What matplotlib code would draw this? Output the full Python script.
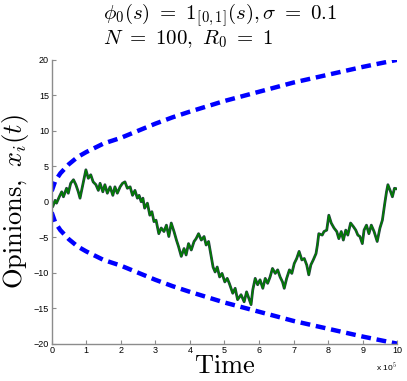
import numpy as np
import matplotlib
matplotlib.use("Agg")
import matplotlib.pyplot as plt

plt.rcParams['mathtext.fontset'] = 'cm'
plt.rcParams['font.family'] = ['Liberation Sans', 'DejaVu Sans']

# time axis in units of 1e5
t_path = [0.0, 0.03, 0.10, 0.14, 0.22, 0.29, 0.34, 0.43, 0.48, 0.55, 0.63, 0.70, 0.77, 0.82,
          0.91, 0.99, 1.06, 1.13, 1.20, 1.28, 1.35, 1.40, 1.48, 1.54, 1.61, 1.69, 1.77, 1.83,
          1.90, 1.98, 2.05, 2.12, 2.19, 2.27, 2.34, 2.41, 2.48, 2.53, 2.59, 2.64, 2.69, 2.77,
          2.84, 2.90, 2.96, 3.02, 3.10, 3.17, 3.25, 3.32, 3.39, 3.46, 3.54, 3.61, 3.67, 3.75,
          3.83, 3.89, 3.96, 4.04, 4.12, 4.18, 4.25, 4.33, 4.41, 4.47, 4.54, 4.60, 4.67, 4.73,
          4.79, 4.86, 4.93, 5.01, 5.08, 5.14, 5.24, 5.31, 5.38, 5.48, 5.57, 5.64, 5.72, 5.77,
          5.82, 5.89, 5.96, 6.03, 6.11, 6.18, 6.25, 6.32, 6.39, 6.47, 6.54, 6.61, 6.68, 6.73,
          6.80, 6.88, 6.95, 7.02, 7.09, 7.16, 7.24, 7.31, 7.38, 7.44, 7.50, 7.57, 7.65, 7.69,
          7.73, 7.83, 7.88, 7.96, 8.02, 8.09, 8.17, 8.25, 8.31, 8.38, 8.44, 8.51, 8.57, 8.65,
          8.73, 8.80, 8.86, 8.92, 8.99, 9.04, 9.11, 9.18, 9.25, 9.33, 9.42, 9.50, 9.57, 9.64,
          9.69, 9.73, 9.81, 9.86, 9.92, 10.0]
x_path = [0.0, -0.7, 0.2, -0.2, 0.7, 1.4, 0.7, 1.9, 1.2, 2.6, 3.1, 2.4, 1.4, 0.5,
          2.6, 4.5, 3.3, 3.8, 2.8, 2.4, 1.6, 2.6, 1.4, 2.4, 1.2, 2.1, 0.9, 2.1,
          1.2, 2.1, 2.6, 2.8, 1.9, 2.1, 0.9, 1.6, 0.5, 0.9, 0.0, 0.5, -0.9, -0.2,
          -1.9, -1.4, -2.8, -2.6, -4.5, -3.7, -4.2, -3.3, -4.9, -3.0, -4.2, -5.4, -6.3, -7.7,
          -6.6, -7.5, -5.9, -6.8, -5.6, -5.2, -4.5, -5.4, -4.9, -6.1, -5.6, -7.3, -9.2, -9.9,
          -9.2, -10.6, -10.1, -11.3, -10.8, -11.5, -12.9, -12.2, -13.8, -13.1, -14.1, -12.7, -13.8, -14.5,
          -12.4, -10.8, -11.7, -11.0, -12.2, -10.8, -11.5, -10.6, -9.4, -10.1, -9.6, -10.6, -11.3, -12.2,
          -10.8, -9.6, -10.1, -8.7, -8.0, -7.0, -8.2, -8.0, -8.9, -10.3, -8.9, -8.2, -7.3, -6.1,
          -4.5, -4.7, -4.2, -4.0, -1.9, -3.0, -3.7, -4.2, -5.2, -4.2, -5.4, -4.0, -4.7, -3.0,
          -3.5, -4.0, -4.7, -4.9, -5.9, -4.0, -3.3, -4.5, -3.3, -4.2, -5.6, -3.7, -2.6, -0.2,
          1.4, 2.4, 1.4, 0.7, 1.9, 1.8]

# envelope (symmetric bound)
t_env = [0.0, 0.1, 0.25, 0.5, 0.75, 1.0, 1.5, 2.0, 2.5, 3.0, 3.5, 4.0, 5.0, 6.0, 7.0, 8.0, 9.0, 10.0]
env = [1.5, 2.9, 4.0, 5.3, 6.3, 7.0, 8.2, 9.0, 10.0, 11.0, 11.9, 12.7, 14.2, 15.5, 16.8, 17.9, 19.0, 20.0]

fig = plt.figure(figsize=(4.07, 3.81), dpi=100)
ax = fig.add_axes([0.127, 0.098, 0.849, 0.745])

env = np.array(env)
ax.plot(t_env, env, color='#0000ff', lw=3.2, dashes=(2.2, 1.3))
ax.plot(t_env, -env, color='#0000ff', lw=3.2, dashes=(2.2, 1.3))

ax.plot(t_path, x_path, color='#2a3a4a', lw=2.0)
ax.plot(t_path, x_path, color='#007f00', lw=1.1)

ax.set_xlim(0, 10)
ax.set_ylim(-20, 20)
ax.set_xticks(range(0, 11))
ax.set_yticks(range(-20, 21, 5))
ax.spines['top'].set_visible(False)
ax.spines['right'].set_visible(False)
for s in ['left', 'bottom']:
    ax.spines[s].set_color('#8c8c8c')
    ax.spines[s].set_linewidth(1.0)
ax.tick_params(direction='in', length=3, width=0.8, color='#8c8c8c',
               labelsize=6.5, pad=2)

ax.set_xlabel(r'$\mathrm{Time}$', fontsize=19, labelpad=-1)
ax.set_ylabel(r'$\mathrm{Opinions},\ x_i(t)$', fontsize=19, labelpad=2)

ax.text(1.0, -0.06, r'x 10$^5$', transform=ax.transAxes, fontsize=6,
        ha='right', va='top')

title = (r'$\phi_0(s)\ =\ \boldsymbol{1}_{[0,1]}(s),\sigma\ =\ 0.1$' + '\n'
         + r'$N\ =\ 100,\ R_0\ =\ 1$')
fig.text(0.253, 0.997, title, fontsize=15, ha='left', va='top', linespacing=0.95)

fig.savefig('out.png', dpi=100)
